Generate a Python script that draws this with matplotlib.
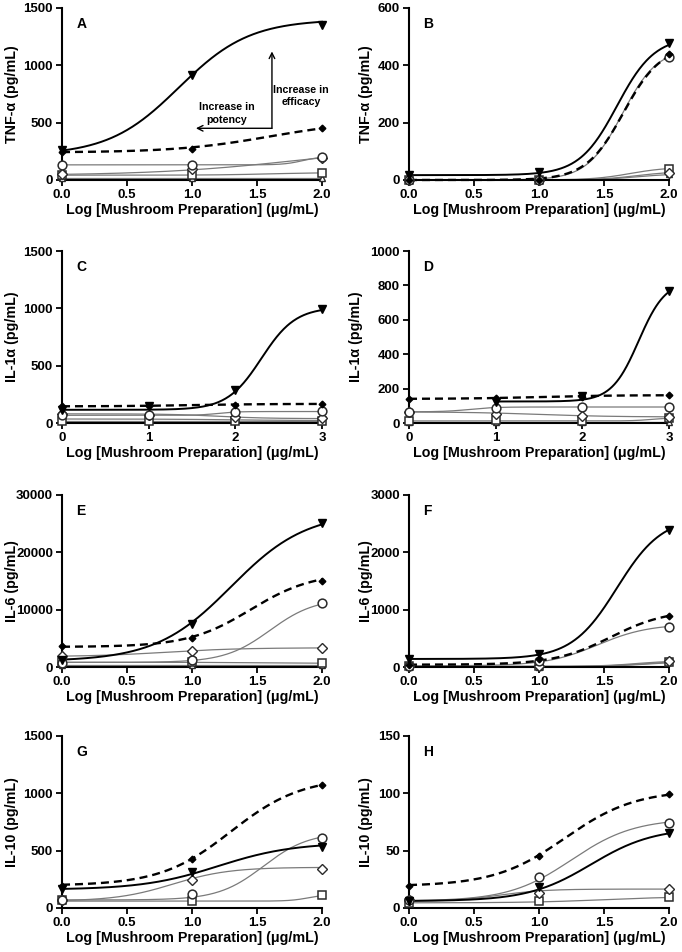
import numpy as np
import matplotlib.pyplot as plt

plt.rcParams['font.family'] = ['Liberation Sans', 'DejaVu Sans']
plt.rcParams['font.weight'] = 'bold'
plt.rcParams['axes.labelweight'] = 'bold'

XLABEL = "Log [Mushroom Preparation] (\u03bcg/mL)"
x3 = [0.0, 1.0, 2.0]
x4 = [0.0, 1.0, 2.0, 3.0]
nan = np.nan

# series order: tri (solid), dia (dashed), circ, odia, sq, otri (grey)
# fits: (bottom, top, logEC50, hill)

# A: TNF-alpha
A_tri = [262, 917, 1354]
A_dia = [240, 270, 450]
A_circ = [135, 130, 200]
A_odia = [55, 100, 190]
A_sq = [40, 45, 60]
A_otri = [20, 20, 20]
A_fit = [(215, 1400, 0.90, 1.6), (240, 520, 1.60, 1.2), (132, 205, 1.85, 6.0),
         (40, 300, 1.80, 0.8), (42, 65, 1.60, 2.0), (20, 20, 1.0, 1.0)]

# B: TNF-alpha
B_tri = [17, 29, 478]
B_dia = [0, 0, 440]
B_circ = [0, 0, 430]
B_odia = [0, 0, 25]
B_sq = [0, 0, 40]
B_otri = [0, 0, 20]
B_fit = [(17, 500, 1.60, 3.0), (0, 470, 1.65, 3.0), (0, 460, 1.64, 3.2),
         (0, 30, 1.75, 3.0), (0, 45, 1.70, 3.0), (0, 22, 1.75, 3.0)]

# C: IL-1alpha
C_tri = [115, 148, 284, 993]
C_dia = [145, 148, 155, 165]
C_circ = [67, 67, 96, 101]
C_odia = [80, 70, 50, 40]
C_sq = [15, 15, 15, 15]
C_otri = [35, 30, 25, 20]
C_fit = [(115, 1010, 2.30, 2.2), (145, 167, 1.50, 1.0), (67, 100, 1.80, 4.0),
         (80, 38, 1.80, 1.5), (15, 15, 1.5, 1.0), (35, 20, 2.0, 1.0)]

# D: IL-1alpha
D_tri = [nan, 125, 156, 768]
D_dia = [140, 148, 150, 160]
D_circ = [65, 90, 95, 92]
D_odia = [65, 50, 40, 35]
D_sq = [10, 15, 10, 30]
D_otri = [5, 5, 5, 5]
D_fit = [(125, 830, 2.65, 2.8), (140, 162, 1.50, 1.0), (65, 93, 0.70, 3.0),
         (65, 35, 1.50, 1.0), (12, 30, 2.80, 4.0), (5, 5, 1.5, 1.0)]

# E: IL-6
E_tri = [1270, 7530, 25080]
E_dia = [3590, 5040, 15060]
E_circ = [750, 1270, 11120]
E_odia = [1850, 2720, 3300]
E_sq = [810, 810, 700]
E_otri = [300, 300, 300]
E_fit = [(1000, 27000, 1.30, 1.5), (3500, 16500, 1.45, 1.8), (800, 12000, 1.60, 2.5),
         (1800, 3350, 0.80, 1.5), (820, 650, 1.50, 2.0), (300, 300, 1.0, 1.0)]

# F: IL-6
F_tri = [145, 230, 2392]
F_dia = [40, 133, 897]
F_circ = [20, 104, 700]
F_odia = [10, 10, 100]
F_sq = [10, 10, 90]
F_otri = [5, 5, 80]
F_fit = [(140, 2620, 1.60, 2.5), (40, 1000, 1.55, 2.0), (20, 750, 1.45, 2.2),
         (10, 110, 1.75, 3.0), (10, 100, 1.80, 3.0), (5, 90, 1.80, 3.0)]

# G: IL-10
G_tri = [167, 311, 534]
G_dia = [196, 427, 1073]
G_circ = [72, 121, 612]
G_odia = [72, 245, 343]
G_sq = [66, 58, 115]
G_otri = [nan, nan, nan]
G_fit = [(160, 570, 1.20, 1.5), (195, 1140, 1.30, 1.6), (70, 660, 1.55, 2.5),
         (60, 355, 0.85, 2.0), (60, 120, 1.90, 6.0), None]

# H: IL-10
H_tri = [6.3, 18.7, 65]
H_dia = [19.6, 45.6, 99]
H_circ = [7.2, 26.8, 74.4]
H_odia = [7.2, 13.5, 16.4]
H_sq = [4.5, 6, 9.5]
H_otri = [nan, nan, nan]
H_fit = [(6, 70, 1.40, 1.8), (19, 103, 1.20, 1.6), (6, 78, 1.25, 1.8),
         (6, 16.5, 0.70, 2.5), (4.5, 10, 1.50, 1.5), None]

panels = [
    ("A", "TNF-\u03b1 (pg/mL)", x3, 1500, 500, [A_tri, A_dia, A_circ, A_odia, A_sq, A_otri], A_fit),
    ("B", "TNF-\u03b1 (pg/mL)", x3, 600, 200, [B_tri, B_dia, B_circ, B_odia, B_sq, B_otri], B_fit),
    ("C", "IL-1\u03b1 (pg/mL)", x4, 1500, 500, [C_tri, C_dia, C_circ, C_odia, C_sq, C_otri], C_fit),
    ("D", "IL-1\u03b1 (pg/mL)", x4, 1000, 200, [D_tri, D_dia, D_circ, D_odia, D_sq, D_otri], D_fit),
    ("E", "IL-6 (pg/mL)", x3, 30000, 10000, [E_tri, E_dia, E_circ, E_odia, E_sq, E_otri], E_fit),
    ("F", "IL-6 (pg/mL)", x3, 3000, 1000, [F_tri, F_dia, F_circ, F_odia, F_sq, F_otri], F_fit),
    ("G", "IL-10 (pg/mL)", x3, 1500, 500, [G_tri, G_dia, G_circ, G_odia, G_sq, G_otri], G_fit),
    ("H", "IL-10 (pg/mL)", x3, 150, 50, [H_tri, H_dia, H_circ, H_odia, H_sq, H_otri], H_fit),
]

GREY = "#7a7a7a"
EDGE = "#2a2a2a"
line_styles = [
    dict(color="black", lw=1.4, ls="-"),
    dict(color="black", lw=1.7, ls=(0, (3.4, 2.1))),
    dict(color=GREY, lw=0.9, ls="-"),
    dict(color=GREY, lw=0.9, ls="-"),
    dict(color=GREY, lw=0.9, ls="-"),
    dict(color=GREY, lw=0.9, ls="-"),
]
marker_styles = [
    dict(marker="v", ms=6, mfc="black", mec="black"),
    dict(marker="D", ms=3.4, mfc="black", mec="black"),
    dict(marker="o", ms=6.3, mfc="white", mec=EDGE, mew=1.1),
    dict(marker="D", ms=4.7, mfc="white", mec=EDGE, mew=1.0),
    dict(marker="s", ms=5.8, mfc="white", mec=EDGE, mew=1.1),
    dict(marker="^", ms=4.7, mfc="white", mec=EDGE, mew=1.0),
]


def logistic(xs, p):
    bottom, top, ec50, hill = p
    return bottom + (top - bottom) / (1 + 10 ** ((ec50 - xs) * hill))


W, H = 682, 952
lefts = [62, 409]
bottoms = [180, 423, 667, 908]
aw, ah = 260, 172
# horizontal centre of each y label, in figure pixels
label_x = [12, 366, 12, 356, 12, 366, 12, 366]

fig = plt.figure(figsize=(W / 100, H / 100), dpi=100)

for i, (letter, ylabel, xs, ymax, ystep, series, fits) in enumerate(panels):
    col, row = i % 2, i // 2
    ax = fig.add_axes([lefts[col] / W, 1 - bottoms[row] / H, aw / W, ah / H])
    xs = np.array(xs)
    # draw grey curves first, black on top
    for k in [5, 4, 3, 2, 0, 1]:
        ys = np.array(series[k], dtype=float)
        ok = ~np.isnan(ys)
        if not ok.any():
            continue
        if fits[k] is not None:
            xx = np.linspace(xs[ok].min(), xs[ok].max(), 300)
            ax.plot(xx, logistic(xx, fits[k]), zorder=2 + (k < 2), clip_on=False,
                    **line_styles[k])
        ax.plot(xs[ok], ys[ok], ls="none", zorder=4 + (k < 2), clip_on=False,
                **marker_styles[k])
    ax.set_xlim(xs[0], xs[-1])
    ax.set_ylim(0, ymax)
    ax.set_yticks(np.arange(0, ymax + ystep / 2, ystep))
    if len(xs) == 3:
        ax.set_xticks(np.arange(0, 2.01, 0.5))
        ax.set_xticklabels([f"{v:.1f}" for v in np.arange(0, 2.01, 0.5)])
    else:
        ax.set_xticks(xs)
        ax.set_xticklabels([f"{int(v)}" for v in xs])
    for s in ["top", "right"]:
        ax.spines[s].set_visible(False)
    for s in ["left", "bottom"]:
        ax.spines[s].set_linewidth(1.5)
    ax.tick_params(width=1.3, length=4, labelsize=9.5, pad=2.5)
    ax.set_xlabel(XLABEL, fontsize=10.3, labelpad=1.5)
    ax.set_ylabel(ylabel, fontsize=10.3, va="center")
    ax.yaxis.set_label_coords((label_x[i] - lefts[col]) / aw, 0.5)
    ax.text(0.055, 0.905, letter, transform=ax.transAxes, fontsize=10,
            fontweight="bold", va="center", ha="left")

    if letter == "A":
        ax.annotate("", xy=(1.03, 451), xytext=(1.615, 451),
                    arrowprops=dict(arrowstyle="->", lw=1.0, color="black",
                                    shrinkA=0, shrinkB=0))
        ax.annotate("", xy=(1.615, 1121), xytext=(1.615, 451),
                    arrowprops=dict(arrowstyle="->", lw=1.0, color="black",
                                    shrinkA=0, shrinkB=0))
        ax.text(1.27, 580, "Increase in\npotency", fontsize=7.7, ha="center",
                va="center", fontweight="bold", linespacing=1.3)
        ax.text(1.84, 731, "Increase in\nefficacy", fontsize=7.7, ha="center",
                va="center", fontweight="bold", linespacing=1.3)

fig.savefig("out.png", dpi=100)
